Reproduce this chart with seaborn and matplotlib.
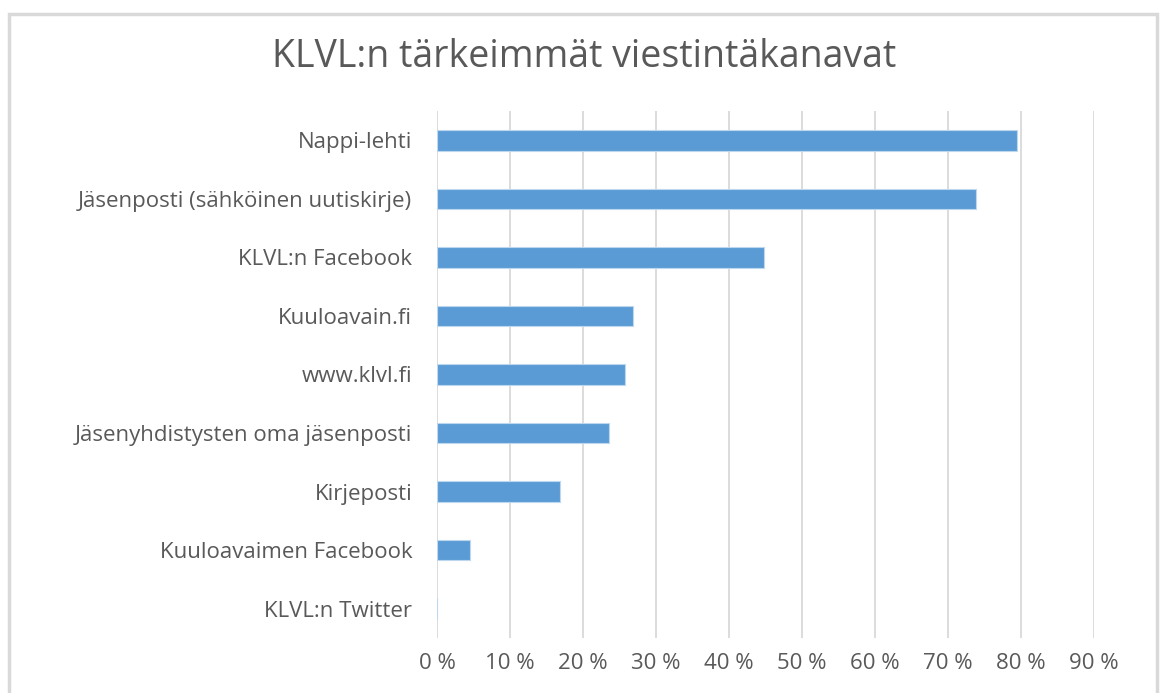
import matplotlib
matplotlib.use('Agg')
import matplotlib.pyplot as plt
import pandas as pd
import seaborn as sns
from matplotlib.patches import Rectangle
from matplotlib.ticker import FuncFormatter

channels = ['Nappi-lehti', 'Jäsenposti (sähköinen uutiskirje)', 'KLVL:n Facebook',
            'Kuuloavain.fi', 'www.klvl.fi', 'Jäsenyhdistysten oma jäsenposti',
            'Kirjeposti', 'Kuuloavaimen Facebook', 'KLVL:n Twitter']
shares = [79.5, 73.9, 44.8, 26.8, 25.8, 23.5, 16.8, 4.5, 0.0]
x_ticks = [0, 10, 20, 30, 40, 50, 60, 70, 80, 90]

df = pd.DataFrame({'channel': channels, 'share': shares})

sns.set_style('white')
plt.rcParams['font.family'] = ['Open Sans', 'DejaVu Sans']
grey = '#595959'

fig = plt.figure(figsize=(11.62, 6.93), dpi=100)
ax = fig.add_axes([0.3763, 0.0794, 0.5649, 0.7604])

sns.barplot(data=df, y='channel', x='share', orient='h', color='#5B9BD5',
            saturation=1, width=0.35, edgecolor='#BDD7EE', linewidth=0.8, ax=ax)

ax.set_xlim(0, 90)
ax.set_xticks(x_ticks)
ax.xaxis.set_major_formatter(FuncFormatter(lambda v, p: '{:.0f} %'.format(v)))
ax.grid(True, axis='x', color='#D9D9D9', lw=1.3)
ax.set_axisbelow(True)
for s in ax.spines.values():
    s.set_visible(False)
ax.set_xlabel('')
ax.set_ylabel('')
ax.tick_params(axis='both', length=0, labelsize=16, labelcolor=grey)
ax.tick_params(axis='y', pad=18)
ax.tick_params(axis='x', pad=11)

fig.suptitle('KLVL:n tärkeimmät viestintäkanavat', x=0.503, y=1 - 57 / 693,
             va='center', fontsize=27, color=grey)

fig.patches.append(Rectangle((9 / 1162, -0.05), 1148 / 1162, 1.05 - 14 / 693,
                             transform=fig.transFigure, fill=False,
                             edgecolor='#D9D9D9', lw=2.5))

plt.savefig('out.png', dpi=100)
